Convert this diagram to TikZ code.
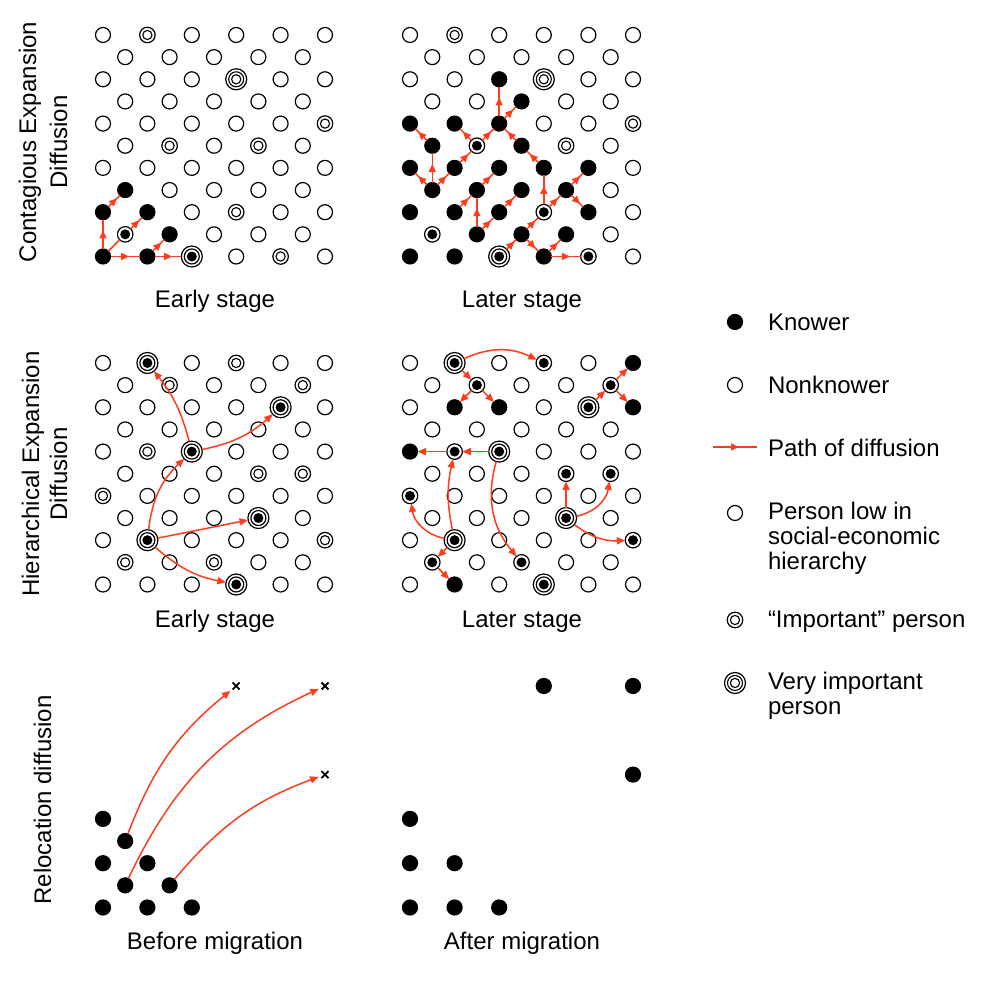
\documentclass[tikz,border=0pt]{standalone}
\usepackage{fontspec}
\setmainfont{Liberation Sans}
\usetikzlibrary{arrows.meta,decorations.markings,shapes.misc}
\definecolor{arr}{RGB}{255,60,30}
\newcommand\gridpanel[5]{%
  \foreach \rowlist [count=\rr from 0] in {#5} {%
    \foreach \typ [count=\kk from 0] in \rowlist {%
      \pgfmathtruncatemacro\cc{2*\kk+mod(\rr,2)}%
      \node[\typ] (#1-\cc-\rr) at ({#2+\cc*#4},{#3-\rr*22.15}) {};%
    }%
  }%
}
\begin{document}
\begin{tikzpicture}[x=1pt,y=1pt,
  every node/.style={inner sep=0pt, outer sep=0pt},
  pn/.style={circle, draw, line width=1.2pt, minimum size=15pt},
  kn/.style={circle, draw, fill=black, line width=1.2pt, minimum size=15pt},
  im/.style={circle, draw, line width=1.2pt, minimum size=15.5pt,
    path picture={\draw[line width=1.1pt] (path picture bounding box.center) circle (4.6pt);}},
  imk/.style={circle, draw, line width=1.2pt, minimum size=15.5pt,
    path picture={\fill (path picture bounding box.center) circle (5pt);}},
  vi/.style={circle, draw, line width=1.2pt, minimum size=21pt,
    path picture={\draw[line width=1.1pt] (path picture bounding box.center) circle (7.5pt);
                  \draw[line width=1.1pt] (path picture bounding box.center) circle (4.6pt);}},
  vik/.style={circle, draw, line width=1.2pt, minimum size=21pt,
    path picture={\draw[line width=1.2pt] (path picture bounding box.center) circle (7.5pt);
                  \fill (path picture bounding box.center) circle (5pt);}},
  xmark/.style={cross out, draw, line width=1.8pt, minimum size=7pt},
  rl/.style={draw=arr, line width=1.5pt},
  midarr/.style={postaction={decorate}, decoration={markings,
    mark=at position 0.5 with {\arrow[xshift=4pt]{Triangle[length=8pt,width=7pt]}}}},
  endarr/.style={-{Triangle[length=8.5pt,width=7pt]}},
  lbl/.style={font=\fontsize{24}{25}\selectfont},
]
\useasboundingbox (0,0) rectangle (997,987);

% ---------- Contagious expansion, early ----------
\gridpanel{TL}{103}{952}{22.2}{%
{pn,im,pn,pn,pn,pn},
{pn,pn,pn,pn,pn},
{pn,pn,pn,vi,pn,pn},
{pn,pn,pn,pn,pn},
{pn,pn,pn,pn,pn,im},
{pn,im,pn,im,pn},
{pn,pn,pn,pn,pn,pn},
{kn,pn,pn,pn,pn},
{kn,kn,pn,im,pn,pn},
{imk,kn,pn,pn,pn},
{kn,kn,vik,pn,im,pn}}
\draw[rl,midarr] (TL-0-10) -- (TL-0-8);
\draw[rl,midarr] (TL-0-8) -- (TL-1-7);
\draw[rl] (TL-0-10) -- (TL-1-9);
\draw[rl,midarr] (TL-1-9) -- (TL-2-8);
\draw[rl,midarr] (TL-0-10) -- (TL-2-10);
\draw[rl,midarr] (TL-2-10) -- (TL-3-9);
\draw[rl,midarr] (TL-2-10) -- (TL-4-10);

% ---------- Contagious expansion, later ----------
\gridpanel{TR}{410}{952}{22.3}{%
{pn,im,pn,pn,pn,pn},
{pn,pn,pn,pn,pn},
{pn,pn,kn,vi,pn,pn},
{pn,pn,kn,pn,pn},
{kn,kn,kn,pn,pn,im},
{kn,imk,kn,im,pn},
{kn,kn,kn,kn,kn,pn},
{kn,kn,kn,kn,pn},
{kn,kn,kn,imk,kn,pn},
{imk,kn,kn,kn,pn},
{kn,kn,vik,kn,imk,pn}}
\draw[rl,midarr] (TR-4-4) -- (TR-4-2);
\draw[rl,midarr] (TR-4-4) -- (TR-5-3);
\draw[rl,midarr] (TR-3-5) -- (TR-4-4);
\draw[rl,midarr] (TR-3-5) -- (TR-2-4);
\draw[rl,midarr] (TR-2-6) -- (TR-3-5);
\draw[rl,midarr] (TR-1-7) -- (TR-2-6);
\draw[rl,midarr] (TR-1-7) -- (TR-0-6);
\draw[rl,midarr] (TR-1-7) -- (TR-1-5);
\draw[rl,midarr] (TR-1-5) -- (TR-0-4);
\draw[rl,midarr] (TR-5-5) -- (TR-4-4);
\draw[rl,midarr] (TR-6-6) -- (TR-5-5);
\draw[rl,midarr] (TR-6-8) -- (TR-6-6);
\draw[rl,midarr] (TR-6-8) -- (TR-7-7);
\draw[rl,midarr] (TR-7-7) -- (TR-8-6);
\draw[rl,midarr] (TR-7-7) -- (TR-8-8);
\draw[rl,midarr] (TR-5-9) -- (TR-6-8);
\draw[rl,midarr] (TR-4-10) -- (TR-5-9);
\draw[rl,midarr] (TR-5-9) -- (TR-6-10);
\draw[rl,midarr] (TR-6-10) -- (TR-7-9);
\draw[rl,midarr] (TR-6-10) -- (TR-8-10);
\draw[rl,midarr] (TR-3-9) -- (TR-3-7);
\draw[rl,midarr] (TR-3-9) -- (TR-4-8);
\draw[rl,midarr] (TR-4-8) -- (TR-5-7);
\draw[rl,midarr] (TR-2-8) -- (TR-3-7);
\draw[rl,midarr] (TR-3-7) -- (TR-4-6);

% ---------- Hierarchical expansion, early ----------
\gridpanel{ML}{103}{624}{22.2}{%
{pn,vik,pn,im,pn,pn},
{pn,im,pn,pn,im},
{pn,pn,pn,pn,vik,pn},
{pn,pn,pn,pn,pn},
{pn,im,vik,pn,pn,pn},
{pn,pn,pn,im,im},
{im,pn,pn,pn,pn,pn},
{pn,pn,pn,vik,pn},
{pn,vik,pn,pn,pn,im},
{im,pn,im,pn,pn},
{pn,pn,pn,vik,pn,pn}}
\draw[rl,endarr] (ML-2-8) to[bend left=20] (ML-4-4);
\draw[rl,endarr] (ML-4-4) to[bend right=12] (ML-2-0);
\draw[rl,endarr] (ML-4-4) to[bend right=15] (ML-8-2);
\draw[rl,endarr] (ML-2-8) -- (ML-7-7);
\draw[rl,endarr] (ML-2-8) to[bend right=15] (ML-6-10);

% ---------- Hierarchical expansion, later ----------
\gridpanel{MR}{410}{624}{22.3}{%
{pn,vik,pn,imk,pn,kn},
{pn,imk,pn,pn,imk},
{pn,kn,kn,pn,vik,kn},
{pn,pn,pn,pn,pn},
{kn,imk,vik,pn,pn,pn},
{pn,pn,pn,imk,imk},
{imk,pn,pn,pn,pn,pn},
{pn,pn,pn,vik,pn},
{pn,vik,pn,pn,pn,imk},
{imk,pn,imk,pn,pn},
{pn,kn,pn,vik,pn,pn}}
\draw[rl,endarr] (MR-2-0) to[bend left=25] (MR-6-0);
\draw[rl,endarr] (MR-2-0) -- (MR-3-1);
\draw[rl,endarr] (MR-3-1) -- (MR-2-2);
\draw[rl,endarr] (MR-3-1) -- (MR-4-2);
\draw[rl,endarr] (MR-8-2) -- (MR-9-1);
\draw[rl,endarr] (MR-9-1) -- (MR-10-0);
\draw[rl,endarr] (MR-9-1) -- (MR-10-2);
\draw[rl,endarr] (MR-4-4) -- (MR-2-4);
\draw[rl,endarr] (MR-2-4) -- (MR-0-4);
\draw[rl,endarr] (MR-2-8) -- (MR-1-9);
\draw[rl,endarr] (MR-1-9) -- (MR-2-10);
\draw[rl,endarr] (MR-7-7) -- (MR-7-5);
\draw[rl,endarr] (MR-2-8) to[bend left=12] (MR-2-4);
\draw[rl,endarr] (MR-2-8) to[bend left=35] (MR-0-6);
\draw[rl,endarr] (MR-4-4) to[bend right=28] (MR-5-9);
\draw[rl,endarr] (MR-7-7) to[bend right=35] (MR-9-5);
\draw[rl,endarr] (MR-7-7) to[bend right=20] (MR-10-8);

% ---------- Relocation, before ----------
\foreach \c/\r in {0/6,1/7,0/8,2/8,1/9,3/9,0/10,2/10,4/10}
  \node[kn] (BL-\c-\r) at ({103+\c*22.2},{301-\r*22.15}) {};
\node[xmark] (BLx1) at (236.2,301) {};
\node[xmark] (BLx2) at (325,301) {};
\node[xmark] (BLx3) at (325,212.4) {};
\draw[rl,endarr,shorten >=3pt] (BL-1-7) to[bend left=15] (BLx1);
\draw[rl,endarr,shorten >=3pt] (BL-1-9) to[bend left=20] (BLx2);
\draw[rl,endarr,shorten >=3pt] (BL-3-9) to[bend left=15] (BLx3);

% ---------- Relocation, after ----------
\foreach \c/\r in {6/0,10/0,10/4,0/6,0/8,2/8,0/10,2/10,4/10}
  \node[kn] (BR-\c-\r) at ({410+\c*22.3},{301-\r*22.15}) {};

% ---------- Labels ----------
\node[lbl,anchor=base] (capTL) at (215,679) {Early stage};
\node[lbl,anchor=base] (capTR) at (522,679) {Later stage};
\node[lbl,anchor=base] (capML) at (215,359) {Early stage};
\node[lbl,anchor=base] (capMR) at (522,359) {Later stage};
\node[lbl,anchor=base] (capBL) at (215,37) {Before migration};
\node[lbl,anchor=base] (capBR) at (522,37) {After migration};
\node[lbl,rotate=90,anchor=base] (rowA1) at (36,845) {Contagious Expansion};
\node[lbl,rotate=90,anchor=base] (rowA2) at (67,845) {Diffusion};
\node[lbl,rotate=90,anchor=base] (rowB1) at (39,513) {Hierarchical Expansion};
\node[lbl,rotate=90,anchor=base] (rowB2) at (67,513) {Diffusion};
\node[lbl,rotate=90,anchor=base] (rowC) at (51,187) {Relocation diffusion};

% ---------- Legend ----------
\node[kn] (lgK) at (735,665) {};
\node[lbl,anchor=base west] (lgKt) at (768,656) {Knower};
\node[pn] (lgN) at (735,602) {};
\node[lbl,anchor=base west] (lgNt) at (768,593) {Nonknower};
\coordinate (lgA) at (713,540);
\coordinate (lgB) at (757,540);
\draw[rl,midarr] (lgA) -- (lgB);
\node[lbl,anchor=base west] (lgPt) at (768,530) {Path of diffusion};
\node[pn] (lgL) at (735,474) {};
\node[lbl,anchor=base west] (lgLt1) at (768,467) {Person low in};
\node[lbl,anchor=base west] (lgLt2) at (768,442) {social-economic};
\node[lbl,anchor=base west] (lgLt3) at (768,417) {hierarchy};
\node[im] (lgI) at (735,367) {};
\node[lbl,anchor=base west] (lgIt) at (768,359) {“Important” person};
\node[vi] (lgV) at (735,304) {};
\node[lbl,anchor=base west] (lgVt1) at (768,297) {Very important};
\node[lbl,anchor=base west] (lgVt2) at (768,272) {person};
\end{tikzpicture}
\end{document}
